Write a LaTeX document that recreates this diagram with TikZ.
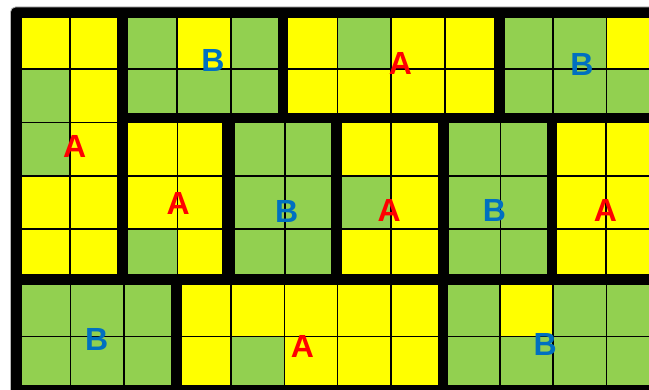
\documentclass[tikz,border=0pt]{standalone}
\usepackage{fontspec}
\setmainfont{Liberation Sans}
\definecolor{cyel}{HTML}{FFFF00}
\definecolor{cgrn}{HTML}{92D050}
\definecolor{cred}{HTML}{FF0000}
\definecolor{cblu}{HTML}{0070C0}
\newcommand\cellsrow[3]{\foreach \xa/\xb/\cc in {#3} {\fill[\cc] (\xa,#1) rectangle (\xb,#2);}}
\tikzset{
  yc/.style={fill=cyel},
  gc/.style={fill=cgrn},
  gl/.style={line width=1.6pt, draw=black},
  lbl/.style={inner sep=0pt, font=\bfseries\fontsize{32}{32}\selectfont},
  lblA/.style={lbl, text=cred},
  lblB/.style={lbl, text=cblu},
}
\begin{document}
\begin{tikzpicture}[x=1pt, y=-1pt]
\useasboundingbox (0,0) rectangle (649,390);
\fill[white] (0,0) rectangle (649,390);
\clip (0,0) rectangle (649,390);
\filldraw[fill=black, draw=gray!55, line width=0.8pt, rounded corners=5pt] (10.5,7) rectangle (690,400);
% ---- Block 1: top-left A
\cellsrow{18.3}{69.2}{21.7/70.2/yc, 70.2/117/yc}
\cellsrow{69.2}{122.5}{21.7/70.2/gc, 70.2/117/yc}
\cellsrow{122.5}{175.8}{21.7/70.2/gc, 70.2/117/yc}
\cellsrow{175.8}{229.2}{21.7/70.2/yc, 70.2/117/yc}
\cellsrow{229.2}{274.3}{21.7/70.2/yc, 70.2/117/yc}
\draw[gl] (70.2,18.3) -- (70.2,274.3);
\foreach \yy in {69.2,122.5,175.8,229.2} {\draw[gl] (21.7,\yy) -- (117,\yy);}
% ---- Block 2: top B
\cellsrow{18.3}{69.2}{128.3/177/gc, 177/230.8/yc, 230.8/278/gc}
\cellsrow{69.2}{112.7}{128.3/177/gc, 177/230.8/gc, 230.8/278/gc}
\foreach \xx in {177,230.8} {\draw[gl] (\xx,18.3) -- (\xx,112.7);}
\draw[gl] (128.3,69.2) -- (278,69.2);
% ---- Block 3: top A
\cellsrow{18.3}{69.2}{288.3/337.5/yc, 337.5/391/gc, 391/444.8/yc, 444.8/493.7/yc}
\cellsrow{69.2}{112.7}{288.3/337.5/yc, 337.5/391/yc, 391/444.8/yc, 444.8/493.7/yc}
\foreach \xx in {337.5,391,444.8} {\draw[gl] (\xx,18.3) -- (\xx,112.7);}
\draw[gl] (288.3,69.2) -- (493.7,69.2);
% ---- Block 4: top-right B
\cellsrow{18.3}{69.2}{505.3/552.8/gc, 552.8/606.5/gc, 606.5/660/yc}
\cellsrow{69.2}{112.7}{505.3/552.8/gc, 552.8/606.5/gc, 606.5/660/gc}
\foreach \xx in {552.8,606.5} {\draw[gl] (\xx,18.3) -- (\xx,112.7);}
\draw[gl] (505.3,69.2) -- (660,69.2);
% ---- Block 5: middle A
\cellsrow{123.3}{175.8}{128.3/177.3/yc, 177.3/222.3/yc}
\cellsrow{175.8}{229.2}{128.3/177.3/yc, 177.3/222.3/yc}
\cellsrow{229.2}{274.3}{128.3/177.3/gc, 177.3/222.3/yc}
\draw[gl] (177.3,123.3) -- (177.3,274.3);
\foreach \yy in {175.8,229.2} {\draw[gl] (128.3,\yy) -- (222.3,\yy);}
% ---- Block 6: middle B
\cellsrow{123.3}{175.8}{235/285/gc, 285/331/gc}
\cellsrow{175.8}{229.2}{235/285/gc, 285/331/gc}
\cellsrow{229.2}{274.3}{235/285/gc, 285/331/gc}
\draw[gl] (285,123.3) -- (285,274.3);
\foreach \yy in {175.8,229.2} {\draw[gl] (235,\yy) -- (331,\yy);}
% ---- Block 7: middle A
\cellsrow{123.3}{175.8}{342/391/yc, 391/437.7/yc}
\cellsrow{175.8}{229.2}{342/391/gc, 391/437.7/yc}
\cellsrow{229.2}{274.3}{342/391/yc, 391/437.7/yc}
\draw[gl] (391,123.3) -- (391,274.3);
\foreach \yy in {175.8,229.2} {\draw[gl] (342,\yy) -- (437.7,\yy);}
% ---- Block 8: middle B
\cellsrow{123.3}{175.8}{448.7/500.3/gc, 500.3/546.7/gc}
\cellsrow{175.8}{229.2}{448.7/500.3/gc, 500.3/546.7/gc}
\cellsrow{229.2}{274.3}{448.7/500.3/gc, 500.3/546.7/gc}
\draw[gl] (500.3,123.3) -- (500.3,274.3);
\foreach \yy in {175.8,229.2} {\draw[gl] (448.7,\yy) -- (546.7,\yy);}
% ---- Block 9: middle-right A
\cellsrow{123.3}{175.8}{557.3/606.2/yc, 606.2/660/yc}
\cellsrow{175.8}{229.2}{557.3/606.2/yc, 606.2/660/yc}
\cellsrow{229.2}{274.3}{557.3/606.2/yc, 606.2/660/yc}
\draw[gl] (606.2,123.3) -- (606.2,274.3);
\foreach \yy in {175.8,229.2} {\draw[gl] (557.3,\yy) -- (660,\yy);}
% ---- Block 10: bottom-left B
\cellsrow{285}{336.5}{21.7/70.3/gc, 70.3/124.2/gc, 124.2/171/gc}
\cellsrow{336.5}{385}{21.7/70.3/gc, 70.3/124.2/gc, 124.2/171/gc}
\foreach \xx in {70.3,124.2} {\draw[gl] (\xx,285) -- (\xx,385);}
\draw[gl] (21.7,336.5) -- (171,336.5);
% ---- Block 11: bottom A
\cellsrow{285}{336.5}{181.7/230.7/yc, 230.7/284.3/yc, 284.3/337.5/yc, 337.5/391/yc, 391/437.7/yc}
\cellsrow{336.5}{385}{181.7/230.7/yc, 230.7/284.3/gc, 284.3/337.5/yc, 337.5/391/yc, 391/437.7/yc}
\foreach \xx in {230.7,284.3,337.5,391} {\draw[gl] (\xx,285) -- (\xx,385);}
\draw[gl] (181.7,336.5) -- (437.7,336.5);
% ---- Block 12: bottom-right B
\cellsrow{285}{336.5}{448.3/500.2/gc, 500.2/553/yc, 553/606.3/gc, 606.3/660/gc}
\cellsrow{336.5}{385}{448.3/500.2/gc, 500.2/553/gc, 553/606.3/gc, 606.3/660/gc}
\foreach \xx in {500.2,553,606.3} {\draw[gl] (\xx,285) -- (\xx,385);}
\draw[gl] (448.3,336.5) -- (660,336.5);
% ---- Labels
\node[lblA] (a1) at (74.7,146) {A};
\node[lblB] (b1) at (213,60.5) {B};
\node[lblA] (a2) at (400.5,63) {A};
\node[lblB] (b2) at (582,64.7) {B};
\node[lblA] (a3) at (178.2,203) {A};
\node[lblB] (b3) at (286.7,211.7) {B};
\node[lblA] (a4) at (389.2,210) {A};
\node[lblB] (b4) at (494.5,210.7) {B};
\node[lblA] (a5) at (605.5,210.3) {A};
\node[lblB] (b5) at (96.7,339.7) {B};
\node[lblA] (a6) at (302.5,346.7) {A};
\node[lblB] (b6) at (545.3,344.5) {B};
\end{tikzpicture}
\end{document}
